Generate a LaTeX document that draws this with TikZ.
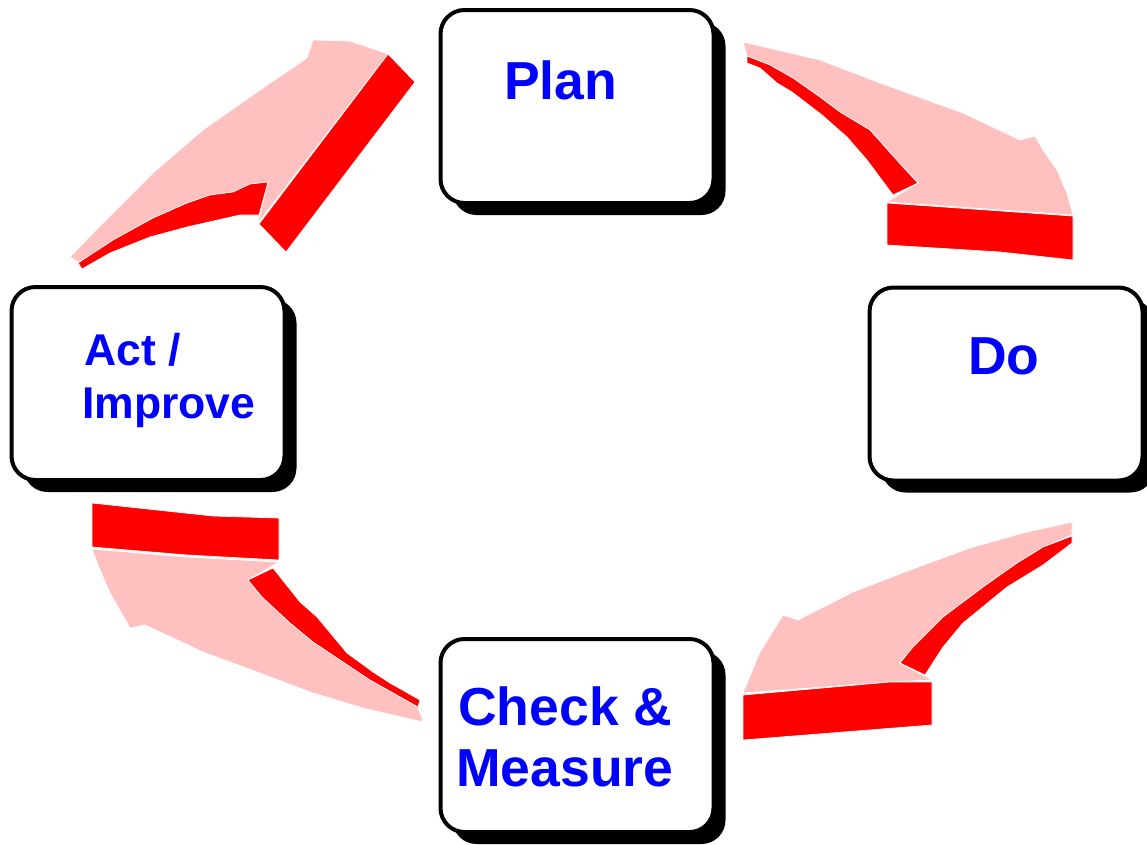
\documentclass[tikz,border=0pt]{standalone}
\usepackage{fontspec}
\setmainfont{Liberation Sans}
\usetikzlibrary{shadows}
\definecolor{pdcapink}{RGB}{255,192,192}
\definecolor{pdcared}{RGB}{255,0,0}
\definecolor{pdcablue}{RGB}{0,0,255}
\begin{document}
\begin{tikzpicture}[x=1pt,y=-1pt,
  box/.style={draw=black, line width=4pt, fill=white, rounded corners=24pt,
    minimum width=273pt, minimum height=193pt, inner sep=0pt,
    drop shadow={shadow xshift=12pt, shadow yshift=-12pt, fill=black, opacity=1}},
  bigtxt/.style={anchor=base west, inner sep=0pt, text=pdcablue,
    font=\fontsize{53.5}{60}\selectfont\bfseries},
  smalltxt/.style={anchor=base west, inner sep=0pt, text=pdcablue,
    font=\fontsize{44.5}{53}\selectfont\bfseries},
  face/.style={fill=pdcapink, draw=white, line width=0.7pt, line join=round},
  side/.style={fill=pdcared, draw=white, line width=0.7pt, line join=round}]
\useasboundingbox (0,0) rectangle (1147,844);

% ---- arrow Act -> Plan (top left)
\path[face] (70,257) -- (103,223) -- (153,173) -- (203,130) -- (260,90) -- (307,58) -- (313,40) -- (350,41) -- (388,54) -- (258,223) -- (268,182) -- (250,184) -- (233,192) -- (210,195) -- (187,203) -- (153,218) -- (113,240) -- (80,263) -- cycle;
\path[side] (268,182) -- (259,215) -- (240,215) -- (187,227) -- (150,237) -- (110,253) -- (82,269) -- (78,263) -- (113,240) -- (153,218) -- (187,203) -- (210,195) -- (233,192) -- (250,184) -- cycle;
\path[side] (388,54) -- (415,82) -- (286,252) -- (259,224) -- cycle;

% ---- arrow Plan -> Do (top right)
\path[face] (743,42) -- (820,60) -- (880,83) -- (963,113) -- (1020,140) -- (1035,136) -- (1043,150) -- (1057,170) -- (1067,193) -- (1073,215) -- (887,202) -- (918,183) -- (903,167) -- (870,130) -- (840,112) -- (820,97) -- (793,78) -- (770,65) -- (747,56) -- cycle;
\path[side] (747,56) -- (747,63) -- (760,68) -- (777,83) -- (792,92) -- (822,115) -- (847,137) -- (867,160) -- (893,195) -- (918,183) -- (903,167) -- (870,130) -- (840,112) -- (820,97) -- (793,78) -- (770,65) -- cycle;
\path[side] (887,203) -- (1073,216) -- (1073,260) -- (1000,252) -- (887,245) -- cycle;

% ---- arrow Do -> Check (bottom right)
\path[face] (1072,522) -- (1023,533) -- (970,548) -- (910,570) -- (853,592) -- (798,620) -- (783,615) -- (760,652) -- (743,693) -- (890,682) -- (932,680) -- (900,663) -- (913,647) -- (943,617) -- (983,587) -- (1017,563) -- (1043,547) -- (1072,535) -- cycle;
\path[side] (1072,536) -- (1072,543) -- (1043,565) -- (1007,587) -- (963,623) -- (943,647) -- (925,675) -- (900,663) -- (913,647) -- (943,617) -- (983,587) -- (1017,563) -- (1043,547) -- cycle;
\path[side] (743,695) -- (890,682) -- (932,682) -- (932,725) -- (743,740) -- cycle;

% ---- arrow Check -> Act (bottom left)
\path[face] (92,549) -- (187,557) -- (279,562) -- (248,580) -- (262,597) -- (290,623) -- (313,642) -- (340,660) -- (370,680) -- (418,707) -- (423,722) -- (363,708) -- (313,693) -- (257,672) -- (203,652) -- (145,625) -- (130,628) -- (110,593) -- (98,565) -- cycle;
\path[side] (273,568) -- (248,580) -- (262,597) -- (290,623) -- (313,642) -- (340,660) -- (370,680) -- (418,707) -- (420,700) -- (390,683) -- (373,672) -- (347,653) -- (317,617) -- (300,602) -- cycle;
\path[side] (92,503) -- (213,516) -- (279,518) -- (279,560) -- (187,555) -- (92,547) -- cycle;

% ---- boxes
\node[box] (plan) at (577,106.5) {};
\node[box] (do) at (1006,384) {};
\node[box] (act) at (148,383.5) {};
\node[box] (check) at (577,735.5) {};

% ---- texts
\node[bigtxt] (plantxt) at (504,99) {Plan};
\node[bigtxt] (dotxt) at (968,374) {Do};
\node[smalltxt] (acttxt) at (84,365) {Act /};
\node[smalltxt] (imptxt) at (82,418) {Improve};
\node[bigtxt] (checktxt) at (458,725) {Check \&};
\node[bigtxt] (meastxt) at (456,786) {Measure};
\end{tikzpicture}
\end{document}
